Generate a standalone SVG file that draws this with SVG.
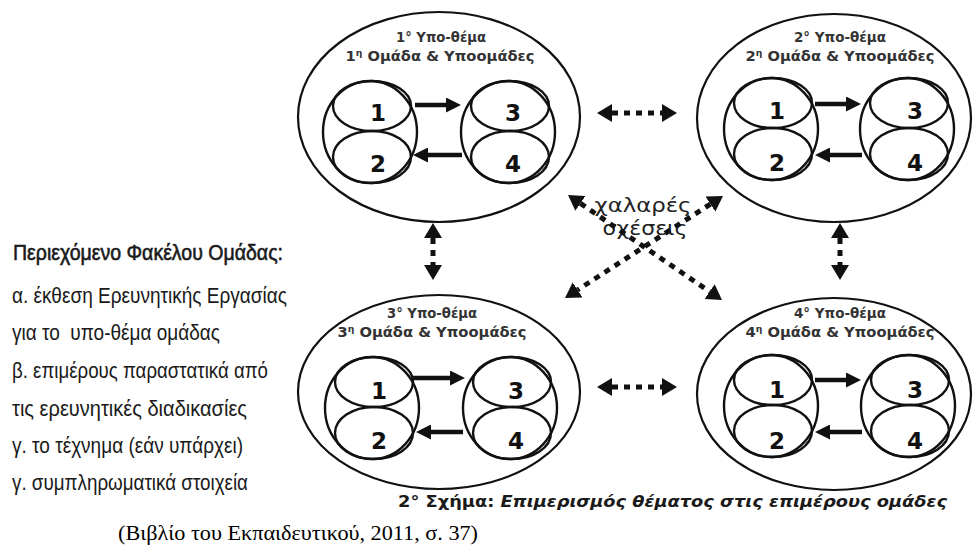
<svg xmlns="http://www.w3.org/2000/svg" xmlns:xlink="http://www.w3.org/1999/xlink" width="973" height="552" viewBox="0 0 973 552">
<style>
.big{fill:none;stroke:#111;stroke-width:2.2}
.pl{fill:none;stroke:#111;stroke-width:2.4}
.lbl{font-family:"DejaVu Sans",sans-serif;font-weight:bold;font-size:13.5px;fill:#333;text-anchor:middle}
.sup{font-size:8.5px}
.num{font-family:"DejaVu Sans",sans-serif;font-weight:bold;font-size:23px;fill:#111;text-anchor:middle}
.sa{stroke:#111;stroke-width:4.5;fill:none;marker-end:url(#sh)}
.da{stroke:#111;stroke-width:5;fill:none;stroke-dasharray:6 6;marker-start:url(#dh);marker-end:url(#dh)}
.side{font-family:"Liberation Sans",Arial,sans-serif;font-size:22px;fill:#1a1a1a;white-space:pre}
.rel{font-family:"DejaVu Sans",sans-serif;font-size:20px;fill:#222;text-anchor:middle}
.cap{font-family:"DejaVu Sans",sans-serif;font-weight:bold;font-size:16px;fill:#1a1a1a}
.src{font-family:"Liberation Serif","Times New Roman",serif;font-size:22px;fill:#000}
</style>
<defs>
<marker id="sh" markerUnits="userSpaceOnUse" viewBox="0 0 15 15" markerWidth="15" markerHeight="15" refX="0" refY="7.5" orient="auto"><path d="M0,0 L15,7.5 L0,15 z" fill="#111"/></marker>
<marker id="dh" markerUnits="userSpaceOnUse" viewBox="0 0 15 18" markerWidth="15" markerHeight="18" refX="0" refY="9" orient="auto-start-reverse"><path d="M0,0 L15,9 L0,18 z" fill="#111"/></marker>
<g id="pill" class="pl"><ellipse cx="0" cy="0" rx="47" ry="51"/><ellipse cx="2" cy="-26" rx="39" ry="25"/><ellipse cx="2" cy="25" rx="39" ry="26"/></g>
</defs>

<g id="subtopic1">
<ellipse class="big" cx="439" cy="117" rx="141" ry="105"/>
<text class="lbl" x="441" y="42" textLength="90" lengthAdjust="spacingAndGlyphs">1° Υπο-θέμα</text>
<text class="lbl" x="440" y="61" textLength="189" lengthAdjust="spacingAndGlyphs">1<tspan class="sup" dy="-5">η</tspan><tspan dy="5"> Ομάδα &amp; Υποομάδες</tspan></text>
<use xlink:href="#pill" x="370" y="132"/>
<use xlink:href="#pill" x="508" y="132"/>
<text class="num" x="378" y="121">1</text>
<text class="num" x="378" y="172">2</text>
<text class="num" x="513" y="121">3</text>
<text class="num" x="513" y="172">4</text>
<line class="sa" x1="415" y1="105" x2="446" y2="105"/>
<line class="sa" x1="462" y1="155" x2="428" y2="155"/>
</g>

<g id="subtopic2">
<ellipse class="big" cx="834" cy="118" rx="137" ry="104"/>
<text class="lbl" x="840" y="42" textLength="92" lengthAdjust="spacingAndGlyphs">2° Υπο-θέμα</text>
<text class="lbl" x="840" y="61" textLength="189" lengthAdjust="spacingAndGlyphs">2<tspan class="sup" dy="-5">η</tspan><tspan dy="5"> Ομάδα &amp; Υποομάδες</tspan></text>
<use xlink:href="#pill" x="771" y="129"/>
<use xlink:href="#pill" x="907" y="129"/>
<text class="num" x="777" y="119">1</text>
<text class="num" x="777" y="171">2</text>
<text class="num" x="915" y="119">3</text>
<text class="num" x="915" y="171">4</text>
<line class="sa" x1="815" y1="104" x2="846" y2="104"/>
<line class="sa" x1="862" y1="155" x2="830" y2="155"/>
</g>

<g id="subtopic3">
<ellipse class="big" cx="439" cy="392" rx="141" ry="97"/>
<text class="lbl" x="432" y="318" textLength="90" lengthAdjust="spacingAndGlyphs">3° Υπο-θέμα</text>
<text class="lbl" x="432" y="337" textLength="189" lengthAdjust="spacingAndGlyphs">3<tspan class="sup" dy="-5">η</tspan><tspan dy="5"> Ομάδα &amp; Υποομάδες</tspan></text>
<use xlink:href="#pill" x="372" y="408"/>
<use xlink:href="#pill" x="510" y="408"/>
<text class="num" x="379" y="399">1</text>
<text class="num" x="379" y="449">2</text>
<text class="num" x="516" y="399">3</text>
<text class="num" x="516" y="449">4</text>
<line class="sa" x1="413" y1="378" x2="450" y2="378"/>
<line class="sa" x1="463" y1="432" x2="431" y2="432"/>
</g>

<g id="subtopic4">
<ellipse class="big" cx="834" cy="394" rx="137" ry="96"/>
<text class="lbl" x="840" y="318" textLength="92" lengthAdjust="spacingAndGlyphs">4° Υπο-θέμα</text>
<text class="lbl" x="840" y="337" textLength="189" lengthAdjust="spacingAndGlyphs">4<tspan class="sup" dy="-5">η</tspan><tspan dy="5"> Ομάδα &amp; Υποομάδες</tspan></text>
<use xlink:href="#pill" x="771" y="406"/>
<use xlink:href="#pill" x="908" y="406"/>
<text class="num" x="777" y="398">1</text>
<text class="num" x="777" y="449">2</text>
<text class="num" x="915" y="398">3</text>
<text class="num" x="915" y="449">4</text>
<line class="sa" x1="815" y1="380" x2="846" y2="380"/>
<line class="sa" x1="862" y1="432" x2="830" y2="432"/>
</g>

<text class="rel" x="643" y="212" textLength="97" lengthAdjust="spacingAndGlyphs">χαλαρές</text>
<text class="rel" x="645" y="235" textLength="85" lengthAdjust="spacingAndGlyphs">σχέσεις</text>

<g id="connectors">
<line class="da" x1="612" y1="113" x2="662" y2="113"/>
<line class="da" x1="612" y1="387" x2="662" y2="387"/>
<line class="da" x1="433" y1="238" x2="433" y2="265"/>
<line class="da" x1="840" y1="238" x2="840" y2="265"/>
<line class="da" x1="580.4" y1="203.4" x2="709.6" y2="291.6"/>
<line class="da" x1="710.4" y1="204.1" x2="577.6" y2="289.9"/>
</g>

<g id="folder-contents">
<text class="side" x="13" y="260" textLength="270" lengthAdjust="spacingAndGlyphs" stroke="#1a1a1a" stroke-width="0.6">Περιεχόμενο Φακέλου Ομάδας:</text>
<text class="side" x="12" y="303" textLength="275" lengthAdjust="spacingAndGlyphs">α. έκθεση Ερευνητικής Εργασίας</text>
<text class="side" x="12" y="340" textLength="208" lengthAdjust="spacingAndGlyphs" xml:space="preserve">για το  υπο-θέμα ομάδας</text>
<text class="side" x="12" y="378" textLength="256" lengthAdjust="spacingAndGlyphs">β. επιμέρους παραστατικά από</text>
<text class="side" x="12" y="416" textLength="235" lengthAdjust="spacingAndGlyphs">τις ερευνητικές διαδικασίες</text>
<text class="side" x="12" y="453" textLength="231" lengthAdjust="spacingAndGlyphs">γ. το τέχνημα (εάν υπάρχει)</text>
<text class="side" x="12" y="490" textLength="236" lengthAdjust="spacingAndGlyphs">γ. συμπληρωματικά στοιχεία</text>
</g>

<text class="cap" x="398" y="507" textLength="549" lengthAdjust="spacingAndGlyphs">2° Σχήμα: <tspan font-style="italic">Επιμερισμός θέματος στις επιμέρους ομάδες</tspan></text>
<text class="src" x="118" y="540" textLength="360" lengthAdjust="spacingAndGlyphs">(Βιβλίο του Εκπαιδευτικού, 2011, σ. 37)</text>
</svg>
